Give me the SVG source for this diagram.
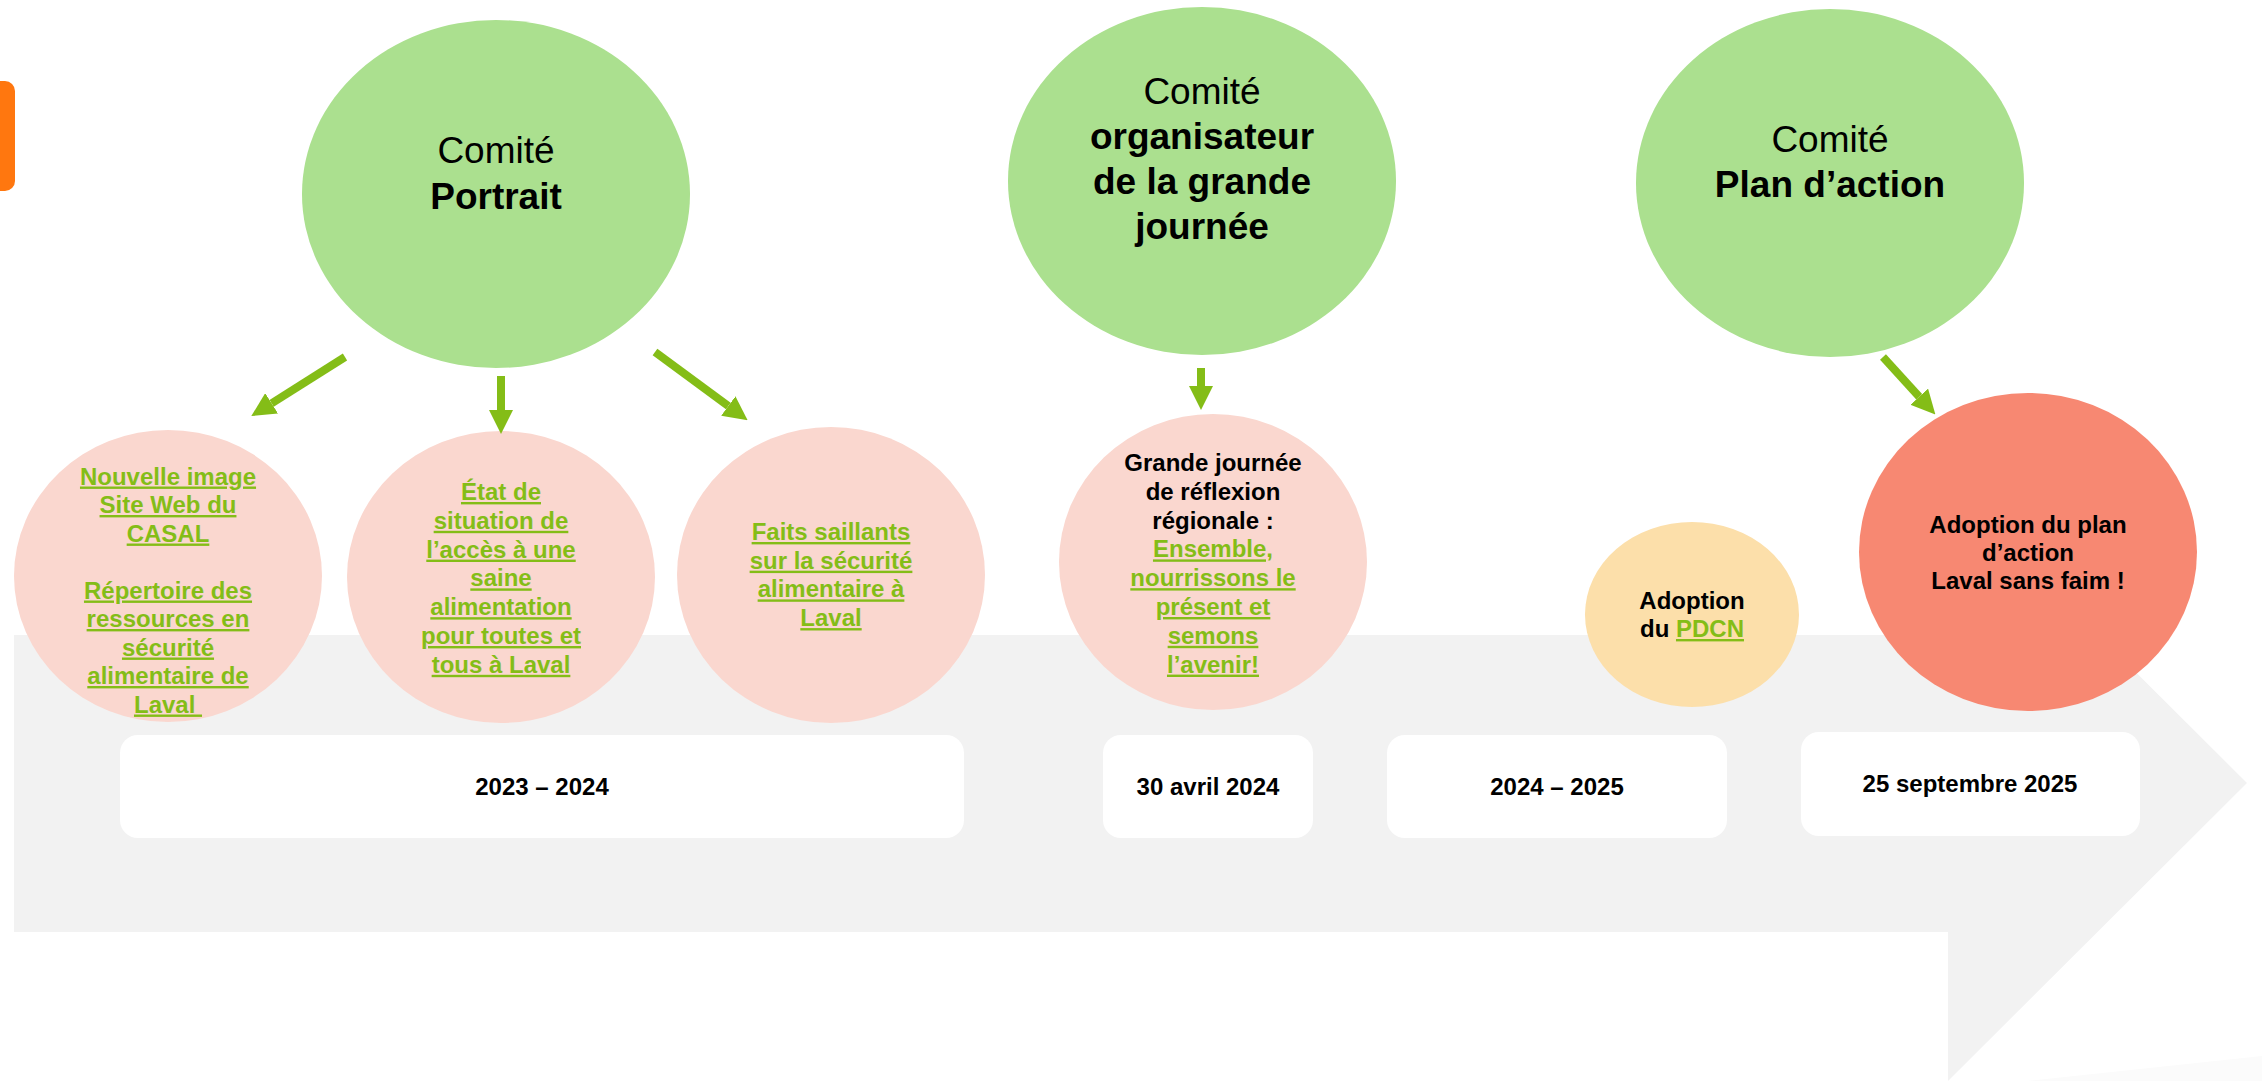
<svg xmlns="http://www.w3.org/2000/svg" width="2262" height="1081" viewBox="0 0 2262 1081">
<defs>
<style>
text{font-family:"Liberation Sans",Arial,sans-serif;text-anchor:middle;}
.cm{font-size:37px;fill:#000;}
.cb{font-size:37px;font-weight:bold;fill:#000;}
.t{font-size:24px;font-weight:bold;fill:#000;}
.lk{fill:#84BD17;text-decoration:underline;text-decoration-thickness:2.5px;}
.green{fill:#ABE08F;}
.pink{fill:#FAD7CF;}
.date{fill:#FFFFFF;}
.conn{stroke:#84BD17;stroke-width:8;fill:none;marker-end:url(#ah);}
</style>
<marker id="ah" markerUnits="userSpaceOnUse" markerWidth="24" markerHeight="24" refX="0" refY="12" orient="auto" viewBox="0 0 24 24">
<path d="M0,0 L24,12 L0,24 z" fill="#84BD17"/>
</marker>
</defs>
<rect width="2262" height="1081" fill="#FFFFFF"/>
<g id="background">
<polygon points="2027,1081 2262,1056 2262,1081" fill="#FBFBFB"/>
<polygon points="14,635 1948,635 1948,485 2247,783 1948,1081 1948,932 14,932" fill="#F2F2F2"/>
<rect x="-14" y="81" width="29" height="110" rx="10" fill="#FF770F"/>
</g>
<g id="dates">
<g id="date-2023-2024"><rect class="date" x="120" y="735" width="844" height="103" rx="18"/><text class="t" x="542" y="795">2023 – 2024</text></g>
<g id="date-30-avril-2024"><rect class="date" x="1103" y="735" width="210" height="103" rx="18"/><text class="t" x="1208" y="795">30 avril 2024</text></g>
<g id="date-2024-2025"><rect class="date" x="1387" y="735" width="340" height="103" rx="18"/><text class="t" x="1557" y="795">2024 – 2025</text></g>
<g id="date-25-septembre-2025"><rect class="date" x="1801" y="732" width="339" height="104" rx="18"/><text class="t" x="1970" y="792">25 septembre 2025</text></g>
</g>
<g id="comite-portrait"><ellipse class="green" cx="496" cy="194" rx="194" ry="174"/><text class="cm" x="496" y="163">Comité</text><text class="cb" x="496" y="209">Portrait</text></g>
<g id="comite-organisateur"><ellipse class="green" cx="1202" cy="181" rx="194" ry="174"/><text class="cm" x="1202" y="104">Comité</text><text class="cb" x="1202" y="149">organisateur</text><text class="cb" x="1202" y="194">de la grande</text><text class="cb" x="1202" y="239">journée</text></g>
<g id="comite-plan"><ellipse class="green" cx="1830" cy="183" rx="194" ry="174"/><text class="cm" x="1830" y="152">Comité</text><text class="cb" x="1830" y="197">Plan d’action</text></g>
<g id="nouvelle-image"><ellipse class="pink" cx="168" cy="576" rx="154" ry="146"/>
<text class="t lk" x="168" y="484.5">Nouvelle image</text>
<text class="t lk" x="168" y="513">Site Web du</text>
<text class="t lk" x="168" y="541.5">CASAL</text>
<text class="t lk" x="168" y="598.5">Répertoire des</text>
<text class="t lk" x="168" y="627">ressources en</text>
<text class="t lk" x="168" y="655.5">sécurité</text>
<text class="t lk" x="168" y="684">alimentaire de</text>
<text class="t lk" x="168" y="712.5">Laval&#160;</text>
</g>
<g id="etat-de-situation"><ellipse class="pink" cx="501" cy="577" rx="154" ry="146"/>
<text class="t lk" x="501" y="500">État de</text>
<text class="t lk" x="501" y="528.8">situation de</text>
<text class="t lk" x="501" y="557.6">l’accès à une</text>
<text class="t lk" x="501" y="586.4">saine</text>
<text class="t lk" x="501" y="615.2">alimentation</text>
<text class="t lk" x="501" y="644">pour toutes et</text>
<text class="t lk" x="501" y="672.8">tous à Laval</text>
</g>
<g id="faits-saillants"><ellipse class="pink" cx="831" cy="575" rx="154" ry="148"/>
<text class="t lk" x="831" y="540">Faits saillants</text>
<text class="t lk" x="831" y="568.7">sur la sécurité</text>
<text class="t lk" x="831" y="597.4">alimentaire à</text>
<text class="t lk" x="831" y="626.1">Laval</text>
</g>
<g id="grande-journee"><ellipse class="pink" cx="1213" cy="562" rx="154" ry="148"/>
<text class="t" x="1213" y="471">Grande journée</text>
<text class="t" x="1213" y="499.8">de réflexion</text>
<text class="t" x="1213" y="528.6">régionale :</text>
<text class="t lk" x="1213" y="557.4">Ensemble,</text>
<text class="t lk" x="1213" y="586.2">nourrissons le</text>
<text class="t lk" x="1213" y="615">présent et</text>
<text class="t lk" x="1213" y="643.8">semons</text>
<text class="t lk" x="1213" y="672.6">l’avenir!</text>
</g>
<g id="adoption-pdcn"><ellipse cx="1692" cy="614.5" rx="107" ry="92.5" fill="#FCDFAA"/>
<text class="t" x="1692" y="608.5">Adoption</text>
<text class="t" x="1692" y="637">du <tspan class="lk">PDCN</tspan></text>
</g>
<g id="adoption-plan"><ellipse cx="2028" cy="552" rx="169" ry="159" fill="#F78872"/>
<text class="t" x="2028" y="533">Adoption du plan</text>
<text class="t" x="2028" y="561">d’action</text>
<text class="t" x="2028" y="589">Laval sans faim !</text>
</g>
<g id="connectors">
<line class="conn" x1="345" y1="357" x2="271.6" y2="403.3"/>
<line class="conn" x1="501" y1="376" x2="501" y2="410"/>
<line class="conn" x1="655" y1="352" x2="728.3" y2="406"/>
<line class="conn" x1="1201" y1="368" x2="1201" y2="386"/>
<line class="conn" x1="1883" y1="357" x2="1919.2" y2="396.7"/>
</g>
</svg>
